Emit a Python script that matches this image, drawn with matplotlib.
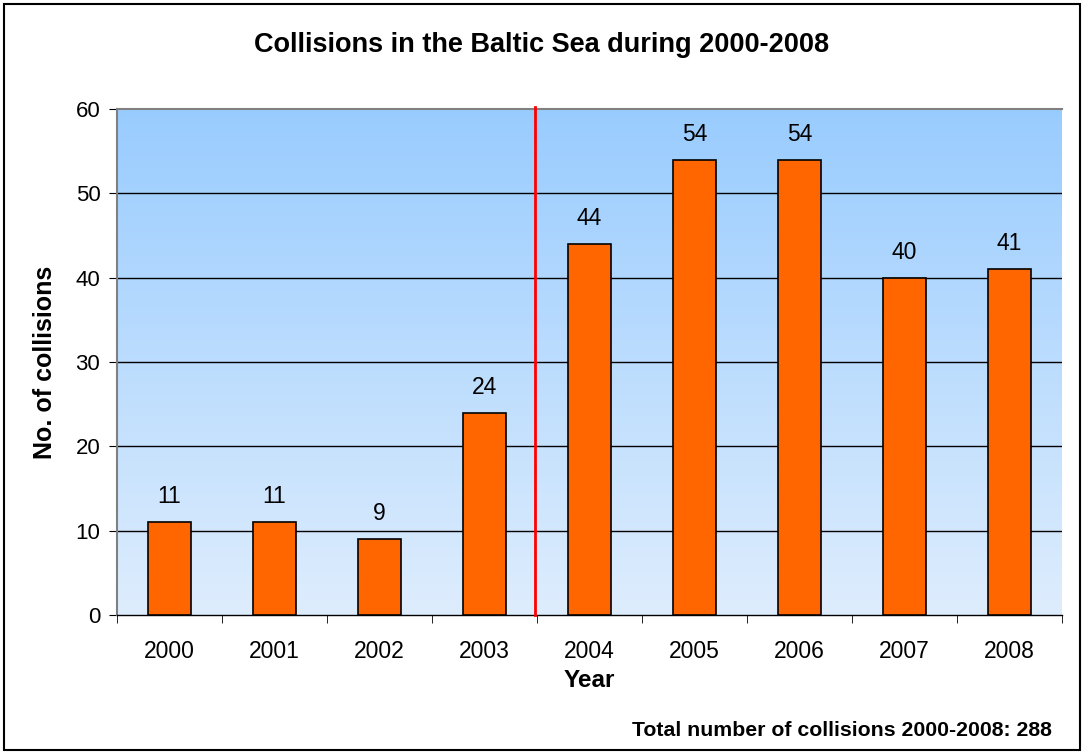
import numpy as np
import matplotlib
matplotlib.use("Agg")
import matplotlib.pyplot as plt
from matplotlib.colors import LinearSegmentedColormap
from matplotlib.patches import Rectangle

# ── Data ──────────────────────────────────────────────────────────────────────
years      = ["2000", "2001", "2002", "2003", "2004", "2005", "2006", "2007", "2008"]
collisions = [11, 11, 9, 24, 44, 54, 54, 40, 41]
y_ticks    = [0, 10, 20, 30, 40, 50, 60]
total      = 288
# ──────────────────────────────────────────────────────────────────────────────

plt.rcParams["font.family"] = ["Liberation Sans", "DejaVu Sans"]

W, H = 1085, 753
fig = plt.figure(figsize=(W / 100, H / 100), dpi=100)
ax = fig.add_axes([117 / W, 1 - 615 / H, (1062 - 117) / W, (615 - 109) / H])

n = len(years)
x = np.arange(n)

# blue gradient background, darker at the top
cmap = LinearSegmentedColormap.from_list("bg", ["#DEEDFD", "#99CCFF"])
grad = np.linspace(0, 1, 256).reshape(-1, 1)
ax.imshow(grad, cmap=cmap, aspect="auto", origin="lower",
          extent=[-0.5, n - 0.5, 0, 60], zorder=0)

ax.set_xlim(-0.5, n - 0.5)
ax.set_ylim(0, 60)

for yv in y_ticks[1:-1]:
    ax.axhline(yv, color="black", lw=1.0, zorder=1)

ax.bar(x, collisions, width=0.41, color="#FF6600", edgecolor="black",
       linewidth=1.2, zorder=3)
for xi, v in zip(x, collisions):
    ax.annotate(str(v), (xi, v), xytext=(0, 10), textcoords="offset points",
                ha="center", va="bottom", fontsize=16.5, zorder=4)

# marker between 2003 and 2004
ax.plot([3.48, 3.48], [0, 60.2], color="#FF0000", lw=2, zorder=5, clip_on=False)

ax.set_yticks(y_ticks)
ax.set_yticklabels([str(t) for t in y_ticks], fontsize=16)
ax.set_xticks(x)
ax.set_xticklabels(years, fontsize=16.5)
ax.set_xticks(np.arange(-0.5, n, 1.0), minor=True)
ax.tick_params(axis="x", which="major", length=0, pad=18)
ax.tick_params(axis="x", which="minor", length=6, direction="out", color="black")
ax.tick_params(axis="y", length=6, direction="out", color="black", pad=6)

for side in ["top", "left"]:
    ax.spines[side].set_color("#808080")
    ax.spines[side].set_linewidth(1.5)
ax.spines["right"].set_visible(False)
ax.spines["bottom"].set_color("black")
ax.spines["bottom"].set_linewidth(1.0)

ax.set_xlabel("Year", fontsize=17.5, fontweight="bold", labelpad=4)
ax.set_ylabel("No. of collisions", fontsize=18, fontweight="bold", labelpad=13)

fig.text(542 / W, 1 - 45 / H, "Collisions in the Baltic Sea during 2000-2008",
         ha="center", va="center", fontsize=19.5, fontweight="bold")
fig.text(1052 / W, 1 - 731 / H, f"Total number of collisions 2000-2008: {total}",
         ha="right", va="center", fontsize=15.3, fontweight="bold")

# frame around the whole figure
fig.patches.append(Rectangle((4 / W, 3 / H), 1076 / W, 746 / H,
                             transform=fig.transFigure, fill=False,
                             edgecolor="black", linewidth=1.5))

fig.savefig("out.png", dpi=100)
